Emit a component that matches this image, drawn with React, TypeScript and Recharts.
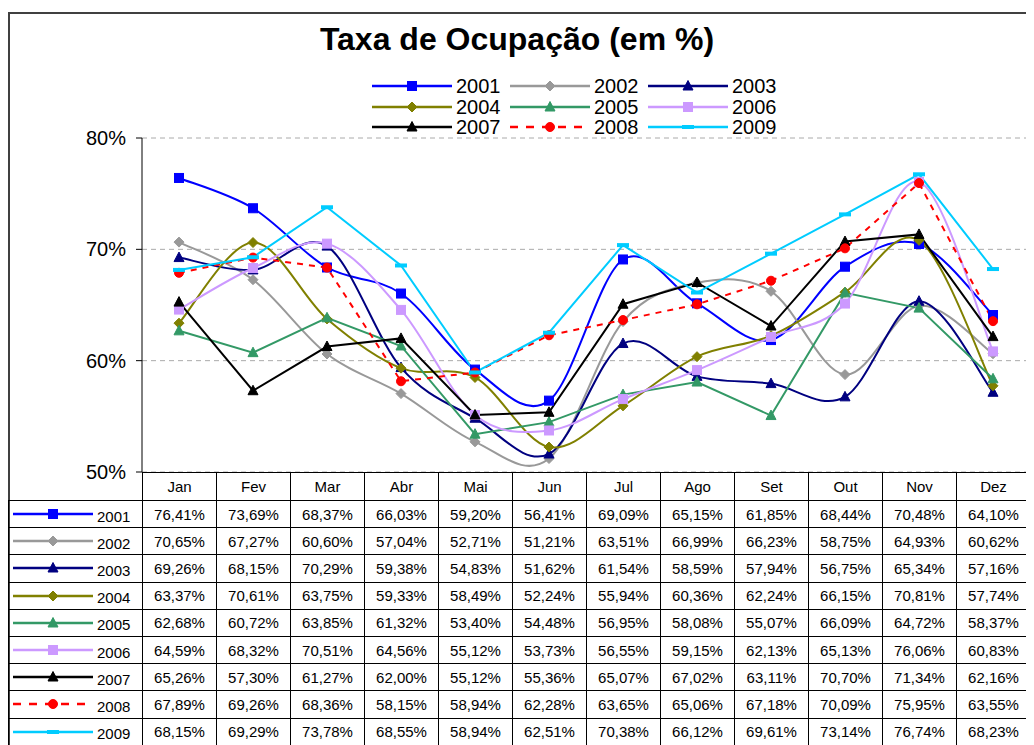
import React from "react"
import { CartesianGrid, Line, LineChart, XAxis, YAxis } from "recharts"

const months = ["Jan", "Fev", "Mar", "Abr", "Mai", "Jun", "Jul", "Ago", "Set", "Out", "Nov", "Dez"]

const y2001 = [76.41, 73.69, 68.37, 66.03, 59.2, 56.41, 69.09, 65.15, 61.85, 68.44, 70.48, 64.1]
const y2002 = [70.65, 67.27, 60.6, 57.04, 52.71, 51.21, 63.51, 66.99, 66.23, 58.75, 64.93, 60.62]
const y2003 = [69.26, 68.15, 70.29, 59.38, 54.83, 51.62, 61.54, 58.59, 57.94, 56.75, 65.34, 57.16]
const y2004 = [63.37, 70.61, 63.75, 59.33, 58.49, 52.24, 55.94, 60.36, 62.24, 66.15, 70.81, 57.74]
const y2005 = [62.68, 60.72, 63.85, 61.32, 53.4, 54.48, 56.95, 58.08, 55.07, 66.09, 64.72, 58.37]
const y2006 = [64.59, 68.32, 70.51, 64.56, 55.12, 53.73, 56.55, 59.15, 62.13, 65.13, 76.06, 60.83]
const y2007 = [65.26, 57.3, 61.27, 62.0, 55.12, 55.36, 65.07, 67.02, 63.11, 70.7, 71.34, 62.16]
const y2008 = [67.89, 69.26, 68.36, 58.15, 58.94, 62.28, 63.65, 65.06, 67.18, 70.09, 75.95, 63.55]
const y2009 = [68.15, 69.29, 73.78, 68.55, 58.94, 62.51, 70.38, 66.12, 69.61, 73.14, 76.74, 68.23]

const yTicks = [50, 60, 70, 80]

type Shape = "square" | "diamond" | "triangle" | "circle" | "dash"

const series: {
  key: string
  values: number[]
  color: string
  shape: Shape
  smooth: boolean
  dashed?: boolean
}[] = [
  { key: "2001", values: y2001, color: "#0000FF", shape: "square", smooth: true },
  { key: "2002", values: y2002, color: "#999999", shape: "diamond", smooth: true },
  { key: "2003", values: y2003, color: "#000080", shape: "triangle", smooth: true },
  { key: "2004", values: y2004, color: "#808000", shape: "diamond", smooth: true },
  { key: "2005", values: y2005, color: "#339966", shape: "triangle", smooth: false },
  { key: "2006", values: y2006, color: "#CC99FF", shape: "square", smooth: true },
  { key: "2007", values: y2007, color: "#000000", shape: "triangle", smooth: false },
  { key: "2008", values: y2008, color: "#FF0000", shape: "circle", smooth: false, dashed: true },
  { key: "2009", values: y2009, color: "#00CCFF", shape: "dash", smooth: false },
]

const data = months.map((m, i) => {
  const row: Record<string, number | string> = { month: m }
  series.forEach((s) => (row[s.key] = s.values[i]))
  return row
})

// curva suavizada tipo Excel (Catmull-Rom)
const smoothCurve = (context: any) => {
  let pts: number[][] = []
  return {
    areaStart() {},
    areaEnd() {},
    lineStart() {
      pts = []
    },
    point(x: number, y: number) {
      pts.push([+x, +y])
    },
    lineEnd() {
      const n = pts.length
      if (!n) return
      context.moveTo(pts[0][0], pts[0][1])
      for (let i = 0; i < n - 1; i++) {
        const p0 = pts[i - 1] || pts[i]
        const p1 = pts[i]
        const p2 = pts[i + 1]
        const p3 = pts[i + 2] || p2
        context.bezierCurveTo(
          p1[0] + (p2[0] - p0[0]) / 6,
          p1[1] + (p2[1] - p0[1]) / 6,
          p2[0] - (p3[0] - p1[0]) / 6,
          p2[1] - (p3[1] - p1[1]) / 6,
          p2[0],
          p2[1]
        )
      }
    },
  }
}

function Marker({ cx, cy, shape, color }: { cx: number; cy: number; shape: Shape; color: string }) {
  if (cx == null || cy == null) return null
  switch (shape) {
    case "square":
      return <rect x={cx - 4.5} y={cy - 4.5} width={9} height={9} fill={color} stroke={color} />
    case "diamond":
      return (
        <polygon
          points={`${cx},${cy - 5} ${cx + 5},${cy} ${cx},${cy + 5} ${cx - 5},${cy}`}
          fill={color}
          stroke={color}
        />
      )
    case "triangle":
      return (
        <polygon
          points={`${cx},${cy - 5.5} ${cx + 5},${cy + 4} ${cx - 5},${cy + 4}`}
          fill={color}
          stroke={color}
          strokeWidth={1}
        />
      )
    case "circle":
      return <circle cx={cx} cy={cy} r={4.5} fill={color} stroke={color} />
    default:
      return <rect x={cx - 6} y={cy - 2} width={12} height={4} fill={color} />
  }
}

function LegendSample({ s, width }: { s: (typeof series)[number]; width: number }) {
  return (
    <svg width={width} height={12} style={{ display: "block" }}>
      <line
        x1={2}
        x2={width - 2}
        y1={6}
        y2={6}
        stroke={s.color}
        strokeWidth={2.5}
        strokeDasharray={s.dashed ? "8 8" : undefined}
      />
      <Marker cx={width / 2} cy={6} shape={s.shape} color={s.color} />
    </svg>
  )
}

const font = "Arial, 'Liberation Sans', sans-serif"

export default function App() {
  return (
    <div style={{ position: "relative", width: 1026, height: 737, fontFamily: font, overflow: "hidden" }}>
      <div
        style={{
          position: "absolute",
          left: 0,
          top: 4,
          width: 1026,
          height: 733,
          borderTop: "2px solid #404040",
          borderLeft: "2px solid #404040",
          boxSizing: "border-box",
        }}
      />
      <div
        style={{
          position: "absolute",
          top: 13,
          left: 289,
          width: 440,
          textAlign: "center",
          fontSize: 32,
          fontWeight: "bold",
        }}
      >
        Taxa de Ocupação (em %)
      </div>

      <LineChart
        width={1026}
        height={737}
        data={data}
        margin={{ top: 130, right: 4, bottom: 273, left: 74 }}
        style={{ position: "absolute", left: 0, top: 0 }}
      >
        <CartesianGrid vertical={false} stroke="#aaaaaa" strokeDasharray="5 4" />
        <XAxis dataKey="month" hide padding={{ left: 37, right: 37 }} />
        <YAxis
          domain={[50, 80]}
          ticks={yTicks}
          width={60}
          tickFormatter={(v) => `${v}%`}
          tick={{ fontSize: 20, fill: "#000", fontFamily: font }}
          axisLine={{ stroke: "#000" }}
          tickLine={{ stroke: "#000" }}
          tickSize={6}
          tickMargin={10}
        />
        {series.map((s) => (
          <Line
            key={s.key}
            dataKey={s.key}
            type={s.smooth ? (smoothCurve as any) : "linear"}
            stroke={s.color}
            strokeWidth={2}
            strokeDasharray={s.dashed ? "6 6" : undefined}
            isAnimationActive={false}
            dot={(p: any) => <Marker key={`${s.key}-${p.index}`} cx={p.cx} cy={p.cy} shape={s.shape} color={s.color} />}
            activeDot={false}
          />
        ))}
      </LineChart>

      {/* legenda */}
      <div style={{ position: "absolute", left: 362, top: 68, width: 420 }}>
        {[0, 1, 2].map((r) => (
          <div key={r} style={{ display: "flex", height: 20.5, alignItems: "center" }}>
            {series.slice(r * 3, r * 3 + 3).map((s) => (
              <div key={s.key} style={{ display: "flex", alignItems: "center", width: 138 }}>
                <LegendSample s={s} width={84} />
                <span style={{ fontSize: 20, marginLeft: 2, lineHeight: "20px" }}>{s.key}</span>
              </div>
            ))}
          </div>
        ))}
      </div>

      {/* tabela de dados */}
      <table
        style={{
          position: "absolute",
          left: 0,
          top: 464,
          borderCollapse: "collapse",
          tableLayout: "fixed",
          width: 1022,
          fontSize: 15,
          fontFamily: font,
        }}
      >
        <colgroup>
          <col style={{ width: 134 }} />
          {months.map((m) => (
            <col key={m} style={{ width: 74 }} />
          ))}
        </colgroup>
        <tbody>
          <tr style={{ height: 28 }}>
            <td style={{ padding: 0 }} />
            {months.map((m) => (
              <td key={m} style={{ border: "1px solid #000", textAlign: "center", padding: 0 }}>
                {m}
              </td>
            ))}
          </tr>
          {series.map((s) => (
            <tr key={s.key} style={{ height: 27.2 }}>
              <td style={{ border: "1px solid #000", padding: 0 }}>
                <div style={{ display: "flex", alignItems: "center" }}>
                  <span style={{ marginLeft: 2 }}>
                    <LegendSample s={s} width={84} />
                  </span>
                  <span style={{ marginLeft: 2, paddingTop: 4 }}>{s.key}</span>
                </div>
              </td>
              {s.values.map((v, i) => (
                <td key={i} style={{ border: "1px solid #000", textAlign: "center", padding: 0 }}>
                  {v.toFixed(2).replace(".", ",")}%
                </td>
              ))}
            </tr>
          ))}
        </tbody>
      </table>
    </div>
  )
}
